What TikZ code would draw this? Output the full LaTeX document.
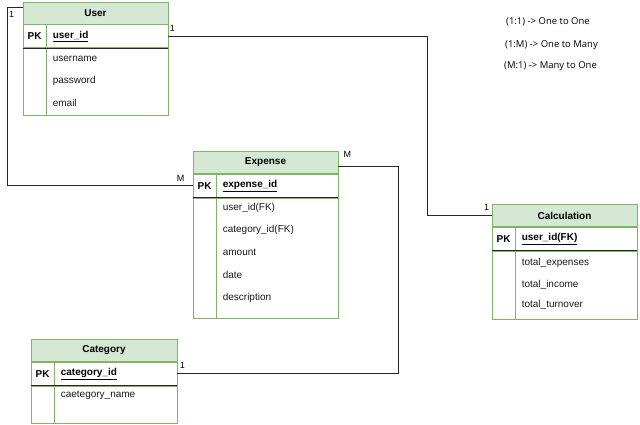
\documentclass[tikz,border=0pt]{standalone}
\usepackage{fontspec}
\setmainfont{Liberation Sans}
\newfontfamily\legendfont{Open Sans}
\usetikzlibrary{positioning}
\definecolor{erfill}{HTML}{D5E8D4}
\definecolor{erline}{HTML}{82B366}

\begin{document}
\begin{tikzpicture}[
    x=1pt, y=-1pt,
    font=\fontsize{10}{12}\selectfont,
    hdr/.style    ={draw=erline, fill=erfill, line width=0.8pt, minimum width=145pt,
                    minimum height=22pt, inner sep=0pt, font=\fontsize{10}{12}\selectfont\bfseries},
    pkrow/.style  ={draw=erline, line width=0.8pt, minimum width=145pt, minimum height=23pt, inner sep=0pt},
    body/.style   ={draw=erline, line width=0.8pt, minimum width=145pt, inner sep=0pt},
    keyline/.style={black!85, line width=1pt},
    colline/.style={erline, line width=0.8pt},
    pk/.style     ={font=\fontsize{10}{12}\selectfont\bfseries, inner sep=0pt},
    key/.style    ={anchor=west, font=\fontsize{10}{12}\selectfont\bfseries, inner sep=0pt},
    attr/.style   ={anchor=west, inner sep=0pt, text=black!90},
    link/.style   ={black!85, line width=0.8pt},
    card/.style   ={font=\fontsize{9}{10}\selectfont, inner sep=0pt},
    legend/.style ={anchor=west, inner sep=0pt, font=\legendfont\fontsize{9.5}{11}\selectfont}
  ]
    \useasboundingbox (0,0) rectangle (640,425);

    % --- User ---
    \node[hdr] (user) at (95.5,13) {User};
    \node[pkrow, below=0pt of user] (userpk) {};
    \node[body, minimum height=67pt, below=0pt of userpk] (userbody) {};
    \draw[colline] ([xshift=24pt]userpk.north west) -- ([xshift=24pt]userbody.south west);
    \draw[keyline] (userpk.south west) -- (userpk.south east);
    \node[pk] at ([xshift=12pt]userpk.west) {PK};
    \node[key] at ([xshift=30pt]userpk.west) {\underline{user\_id}};
    \node[attr] at ([xshift=30pt,yshift=-11pt]userbody.north west) {username};
    \node[attr] at ([xshift=30pt,yshift=-33pt]userbody.north west) {password};
    \node[attr] at ([xshift=30pt,yshift=-55pt]userbody.north west) {email};

    % --- Expense ---
    \node[hdr] (expense) at (265.5,162.5) {Expense};
    \node[pkrow, below=0pt of expense] (expk) {};
    \node[body, minimum height=120pt, below=0pt of expk] (exbody) {};
    \draw[colline] ([xshift=24pt]expk.north west) -- ([xshift=24pt]exbody.south west);
    \draw[keyline] (expk.south west) -- (expk.south east);
    \node[pk] at ([xshift=12pt]expk.west) {PK};
    \node[key] at ([xshift=30pt]expk.west) {\underline{expense\_id}};
    \node[attr] at ([xshift=30pt,yshift=-10pt]exbody.north west) {user\_id(FK)};
    \node[attr] at ([xshift=30pt,yshift=-32pt]exbody.north west) {category\_id(FK)};
    \node[attr] at ([xshift=30pt,yshift=-55pt]exbody.north west) {amount};
    \node[attr] at ([xshift=30pt,yshift=-77pt]exbody.north west) {date};
    \node[attr] at ([xshift=30pt,yshift=-100pt]exbody.north west) {description};

    % --- Calculation ---
    \node[hdr] (calc) at (564.5,215.5) {Calculation};
    \node[pkrow, below=0pt of calc] (calcpk) {};
    \node[body, minimum height=68pt, below=0pt of calcpk] (calcbody) {};
    \draw[colline] ([xshift=24pt]calcpk.north west) -- ([xshift=24pt]calcbody.south west);
    \draw[keyline] (calcpk.south west) -- (calcpk.south east);
    \node[pk] at ([xshift=12pt]calcpk.west) {PK};
    \node[key] at ([xshift=30pt]calcpk.west) {\underline{user\_id(FK)}};
    \node[attr] at ([xshift=30pt,yshift=-12pt]calcbody.north west) {total\_expenses};
    \node[attr] at ([xshift=30pt,yshift=-34pt]calcbody.north west) {total\_income};
    \node[attr] at ([xshift=30pt,yshift=-54pt]calcbody.north west) {total\_turnover};

    % --- Category ---
    \node[hdr, minimum width=146pt] (cat) at (104,350.5) {Category};
    \node[pkrow, minimum width=146pt, below=0pt of cat] (catpk) {};
    \node[body, minimum width=146pt, minimum height=37pt, below=0pt of catpk] (catbody) {};
    \draw[colline] ([xshift=24pt]catpk.north west) -- ([xshift=24pt]catbody.south west);
    \draw[keyline] (catpk.south west) -- (catpk.south east);
    \node[pk] at ([xshift=12pt]catpk.west) {PK};
    \node[key] at ([xshift=30pt]catpk.west) {\underline{category\_id}};
    \node[attr] at ([xshift=30pt,yshift=-10pt]catbody.north west) {caetegory\_name};

    % --- relations ---
    \draw[link] ([yshift=-6pt]user.north west) -- ++(-15,0) |- (expk.west);
    \draw[link] (userpk.east) -| ([xshift=-64pt]calc.west) -- (calc.west);
    \draw[link] ([yshift=-4pt]expense.east) -- ++(60,0) |- (catpk.east);

    \node[card] at ([xshift=-11pt,yshift=-13pt]user.north west) {1};
    \node[card] at ([xshift=-12pt,yshift=7pt]expk.west) {M};
    \node[card] at ([xshift=4pt,yshift=8pt]userpk.east) {1};
    \node[card] at ([xshift=-5pt,yshift=8pt]calc.west) {1};
    \node[card] at ([xshift=9pt,yshift=8pt]expense.east) {M};
    \node[card] at ([xshift=5pt,yshift=8pt]catpk.east) {1};

    % --- legend ---
    \node[legend] (leg1) at (506,22) {(1:1) -> One to One};
    \node[legend] (leg2) at (505,45) {(1:M) -> One to Many};
    \node[legend] (leg3) at (504,66) {(M:1) -> Many to One};
\end{tikzpicture}
\end{document}
